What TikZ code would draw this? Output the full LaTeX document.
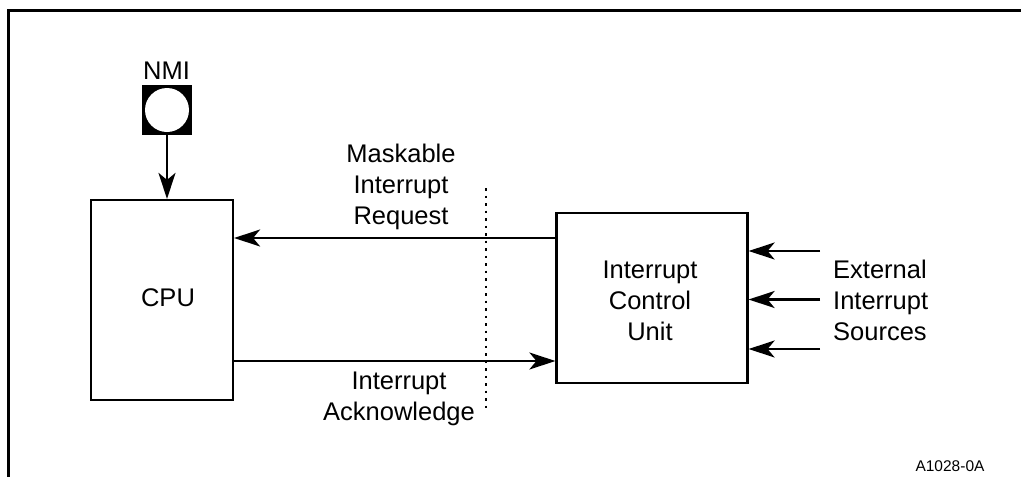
\documentclass[tikz,border=0pt]{standalone}
\usepackage{fontspec}
\setmainfont{Liberation Sans}
\usetikzlibrary{arrows.meta}
\begin{document}
\begin{tikzpicture}[x=1pt,y=-1pt,
  box/.style={draw,line width=2.2pt,inner sep=0pt},
  lbl/.style={font=\fontsize{25.5}{31}\selectfont,align=center,inner sep=0pt},
  conn/.style={line width=2.6pt,-{Stealth[length=26pt,width=17pt,inset=7pt]}}]
\useasboundingbox (0,0) rectangle (1021,477);
% frame
\draw[line width=3pt] (8.5,477) -- (8.5,10) -- (1021,10);
% NMI pin
\node[fill=black,minimum size=50pt,inner sep=0pt] (nmi) at (167,110) {};
\node[fill=white,circle,minimum size=44pt,inner sep=0pt] (nmic) at (167,110) {};
\node[lbl,anchor=base] (nmit) at (166.5,79) {NMI};
% boxes
\node[box,minimum width=142pt,minimum height=200pt] (cpu) at (162,300) {};
\node[lbl,anchor=base] (cput) at (168,306.5) {CPU};
\node[box,minimum width=191pt,minimum height=170pt] (icu) at (652,298) {};
\node[lbl] (icut) at (650,300.5) {Interrupt\\Control\\Unit};
% NMI arrow
\draw[conn] (nmi.south) -- (nmi.south |- cpu.north);
% maskable request
\coordinate (mr) at (icu.west |- 0,238);
\draw[conn] (mr) -- (cpu.east |- mr);
\coordinate (ia) at (cpu.east |- 0,361);
\draw[conn] (ia) -- (icu.west |- ia);
% dotted line
\coordinate (d1) at (486,188);
\coordinate (d2) at (486,409);
\draw[line width=2.5pt,dash pattern=on 2.5pt off 5pt] (d1) -- (d2);
\node[lbl] (mask) at (401,187) {Maskable\\Interrupt\\Request};
\node[lbl] (ack) at (399,399) {Interrupt\\Acknowledge};
% external
\coordinate (e1) at (820,251);
\coordinate (e2) at (820,299.5);
\coordinate (e3) at (820,349);
\draw[conn] (e1) -- (icu.east |- e1);
\draw[conn] (e2) -- (icu.east |- e2);
\draw[conn] (e3) -- (icu.east |- e3);
\node[lbl,anchor=west,align=left] (ext) at (833,300.5) {External\\Interrupt\\Sources};
\node[font=\fontsize{15.5}{18}\selectfont,inner sep=0pt,anchor=base] (code) at (950,471.5) {A1028-0A};
\end{tikzpicture}
\end{document}
